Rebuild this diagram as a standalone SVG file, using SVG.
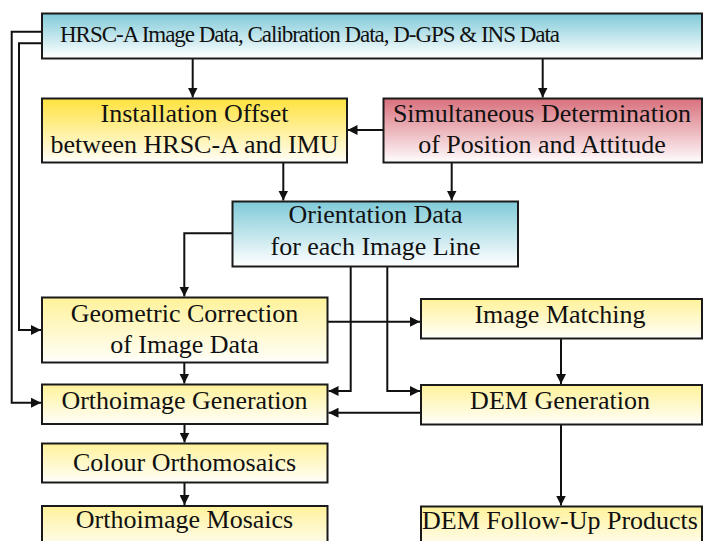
<svg xmlns="http://www.w3.org/2000/svg" width="703" height="541" viewBox="0 0 703 541">
<defs>
<linearGradient id="gTeal" x1="0" y1="0" x2="0" y2="1">
<stop offset="0" stop-color="#7fcad8"/><stop offset="0.85" stop-color="#eef8fa"/><stop offset="1" stop-color="#ffffff"/>
</linearGradient>
<linearGradient id="gYellowStrong" x1="0" y1="0" x2="0" y2="1">
<stop offset="0" stop-color="#ffe23e"/><stop offset="0.9" stop-color="#fffbe6"/><stop offset="1" stop-color="#ffffff"/>
</linearGradient>
<linearGradient id="gYellow" x1="0" y1="0" x2="0" y2="1">
<stop offset="0" stop-color="#fff29a"/><stop offset="0.9" stop-color="#fffdf0"/><stop offset="1" stop-color="#ffffff"/>
</linearGradient>
<linearGradient id="gRed" x1="0" y1="0" x2="0" y2="1">
<stop offset="0" stop-color="#d8707c"/><stop offset="0.9" stop-color="#fbeef0"/><stop offset="1" stop-color="#ffffff"/>
</linearGradient>
<marker id="arr" markerUnits="userSpaceOnUse" markerWidth="11" markerHeight="10" refX="10" refY="5" orient="auto">
<path d="M0,0 L10,5 L0,10 z" fill="#111"/>
</marker>
</defs>
<style>
.box{stroke:#1a1a1a;stroke-width:2}
.t{font-family:"Liberation Serif","Times New Roman",serif;font-size:26px;fill:#111;text-anchor:middle}
.tt{font-family:"Liberation Serif","Times New Roman",serif;font-size:23px;fill:#111}
.c{fill:none;stroke:#111;stroke-width:2}
.ca{fill:none;stroke:#111;stroke-width:2;marker-end:url(#arr)}
</style>

<g id="connectors">
<polyline class="ca" points="42,31.7 11.7,31.7 11.7,402.7 41,402.7"/>
<polyline class="ca" points="42,43.3 19,43.3 19,330 41,330"/>
<line class="ca" x1="192.7" y1="58.5" x2="192.7" y2="97.5"/>
<line class="ca" x1="542.7" y1="58.5" x2="542.7" y2="97.5"/>
<line class="ca" x1="383.5" y1="130" x2="347.5" y2="130"/>
<line class="ca" x1="283.3" y1="162.5" x2="283.3" y2="200.5"/>
<line class="ca" x1="451.7" y1="162.5" x2="451.7" y2="200.5"/>
<polyline class="ca" points="232.5,233.3 184.3,233.3 184.3,296.5"/>
<line class="ca" x1="184.3" y1="362.5" x2="184.3" y2="383.5"/>
<line class="ca" x1="327.5" y1="321.7" x2="420" y2="321.7"/>
<polyline class="ca" points="350.7,266.5 350.7,391 328.5,391"/>
<polyline class="ca" points="387.3,266.5 387.3,391 420,391"/>
<line class="ca" x1="561" y1="338.5" x2="561" y2="384"/>
<line class="ca" x1="421" y1="412.7" x2="328.5" y2="412.7"/>
<line class="ca" x1="184.5" y1="424" x2="184.5" y2="442.5"/>
<line class="ca" x1="184.5" y1="482.5" x2="184.5" y2="505"/>
<line class="ca" x1="561" y1="424.5" x2="561" y2="505.5"/>
</g>

<g id="input">
<rect class="box" x="42" y="13.5" width="660" height="45" fill="url(#gTeal)"/>
<text class="tt" x="60" y="41.7" textLength="500" lengthAdjust="spacing">HRSC-A Image Data, Calibration Data, D-GPS &amp; INS Data</text>
</g>
<g id="installation">
<rect class="box" x="42" y="98.5" width="305" height="64" fill="url(#gYellowStrong)"/>
<text class="t" x="194.5" y="121.7">Installation Offset</text>
<text class="t" x="194.5" y="153">between HRSC-A and IMU</text>
</g>
<g id="simultaneous">
<rect class="box" x="383.5" y="98.5" width="318.5" height="64" fill="url(#gRed)"/>
<text class="t" x="542" y="121.7">Simultaneous Determination</text>
<text class="t" x="542" y="153">of Position and Attitude</text>
</g>
<g id="orientation">
<rect class="box" x="232.5" y="201.5" width="285.5" height="65" fill="url(#gTeal)"/>
<text class="t" x="375.5" y="222.7">Orientation Data</text>
<text class="t" x="375.5" y="255">for each Image Line</text>
</g>
<g id="geometric">
<rect class="box" x="42" y="297.5" width="285.5" height="65" fill="url(#gYellow)"/>
<text class="t" x="184.5" y="321.7">Geometric Correction</text>
<text class="t" x="184.5" y="353.3">of Image Data</text>
</g>
<g id="matching">
<rect class="box" x="421" y="299" width="281" height="39.5" fill="url(#gYellow)"/>
<text class="t" x="560" y="323.3">Image Matching</text>
</g>
<g id="orthogen">
<rect class="box" x="42" y="384.5" width="285.5" height="39.5" fill="url(#gYellow)"/>
<text class="t" x="184.5" y="409">Orthoimage Generation</text>
</g>
<g id="demgen">
<rect class="box" x="421" y="385" width="281" height="39.5" fill="url(#gYellow)"/>
<text class="t" x="560" y="409.3">DEM Generation</text>
</g>
<g id="colour">
<rect class="box" x="42" y="443.5" width="285.5" height="39" fill="url(#gYellow)"/>
<text class="t" x="184.5" y="470.7">Colour Orthomosaics</text>
</g>
<g id="mosaics">
<rect class="box" x="42" y="506" width="285.5" height="45" fill="url(#gYellow)"/>
<text class="t" x="184.5" y="528.3">Orthoimage Mosaics</text>
</g>
<g id="followup">
<rect class="box" x="421" y="506.5" width="281" height="45" fill="url(#gYellow)"/>
<text class="t" x="560" y="529.3">DEM Follow-Up Products</text>
</g>
</svg>
